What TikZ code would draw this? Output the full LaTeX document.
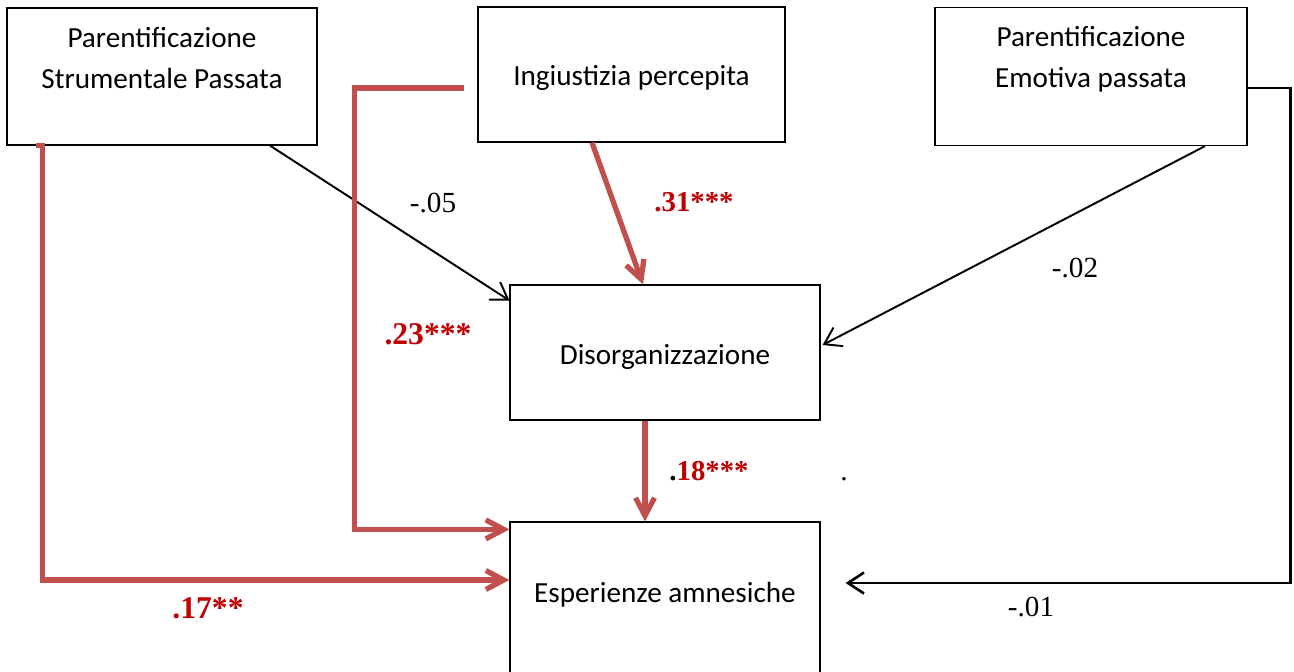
\documentclass[tikz,border=0pt]{standalone}
\usepackage{fontspec}
\setmainfont{Carlito}
\newfontfamily\numfont{Liberation Serif}
\usetikzlibrary{arrows.meta,calc}
\definecolor{pathred}{RGB}{192,80,77}
\definecolor{coefred}{RGB}{192,0,0}
\begin{document}
\begin{tikzpicture}[x=0.02cm,y=-0.02cm,
		box/.style={draw,line width=0.7pt,minimum width=6.2cm,minimum height=2.7cm,inner sep=0pt},
		boxtext/.style={align=center,font=\fontsize{16.6}{23.3}\selectfont},
		coef/.style={font=\numfont\fontsize{16.6}{19}\selectfont},
		sigcoef/.style={font=\numfont\bfseries\fontsize{16.4}{19}\selectfont,text=coefred},
		bigcoef/.style={font=\numfont\bfseries\fontsize{18}{21}\selectfont,text=coefred},
		blackpath/.style={line width=1.1pt,-{Straight Barb[length=3.2mm,width=4.2mm]}},
		redpath/.style={draw=pathred,line width=3pt,-{Straight Barb[length=3.6mm,width=3.8mm]}}]
		\useasboundingbox (0,0) rectangle (1294,672);
		% boxes
		\node[box,minimum width=6.2cm,minimum height=2.74cm] (psp) at (162,76.5) {};
		\node[box,minimum width=6.14cm,minimum height=2.7cm] (ing) at (631.5,74.5) {};
		\node[box,minimum width=6.24cm,minimum height=2.76cm] (pep) at (1091,76.5) {};
		\node[box] (dis) at (665,352.5) {};
		\node[box,minimum height=3.2cm] (esp) at (665,602) {};
		% box texts
		\node[boxtext] (psp-t) at ($(psp.north)+(0,50.5)$) {Parentificazione\\Strumentale Passata};
		\node[boxtext] (ing-t) at ($(ing.north)+(0,72)$) {Ingiustizia percepita};
		\node[boxtext] (pep-t) at ($(pep.north)+(0,52.5)$) {Parentificazione\\Emotiva passata};
		\node[boxtext] (dis-t) at ($(dis.north)+(0,73)$) {Disorganizzazione};
		\node[boxtext] (esp-t) at ($(esp.north)+(0,73)$) {Esperienze amnesiche};
		% paths
		\draw[blackpath] ($(psp.south)+(108,0)$) -- ($(dis.west)+(0,-52)$);
		\draw[redpath] ($(ing.south)+(-39.5,0)$) -- ($(dis.north)+(-22,0)$);
		\draw[redpath] ($(ing.west)+(-13,13.5)$) -- ++(-110,0) |- ($(esp.north west)+(0,8)$);
		\draw[redpath] ($(psp.south west)+(30,0)$) -- ++(6,0) |- ($(esp.west)+(0,-22)$);
		\draw[redpath] ($(dis.south)+(-20,0)$) -- ($(esp.north)+(-20,0)$);
		\draw[blackpath] ($(pep.south)+(114,0)$) -- ($(dis.east)+(2,-7.5)$);
		\draw[blackpath,line width=1.5pt] ($(pep.east)+(0,11.5)$) -- ++(43,0) |- ($(esp.east)+(25,-19)$);
		% coefficients
		\node[coef] (c-psp-dis) at (433,203) {-.05};
		\node[sigcoef] (c-ing-dis) at (694,202) {.31***};
		\node[bigcoef] (c-ing-esp) at (428,334) {.23***};
		\node[bigcoef] (c-psp-esp) at (208,608) {.17**};
		\node[sigcoef] (c-dis-esp) at (709,471) {{\color{black}.}18***};
		\node[coef] (c-pep-dis) at (1075,268) {-.02};
		\node[coef] (c-pep-esp) at (1031,607) {-.01};
		\node[coef] (stray) at (844,479) {.};
	\end{tikzpicture}
\end{document}
